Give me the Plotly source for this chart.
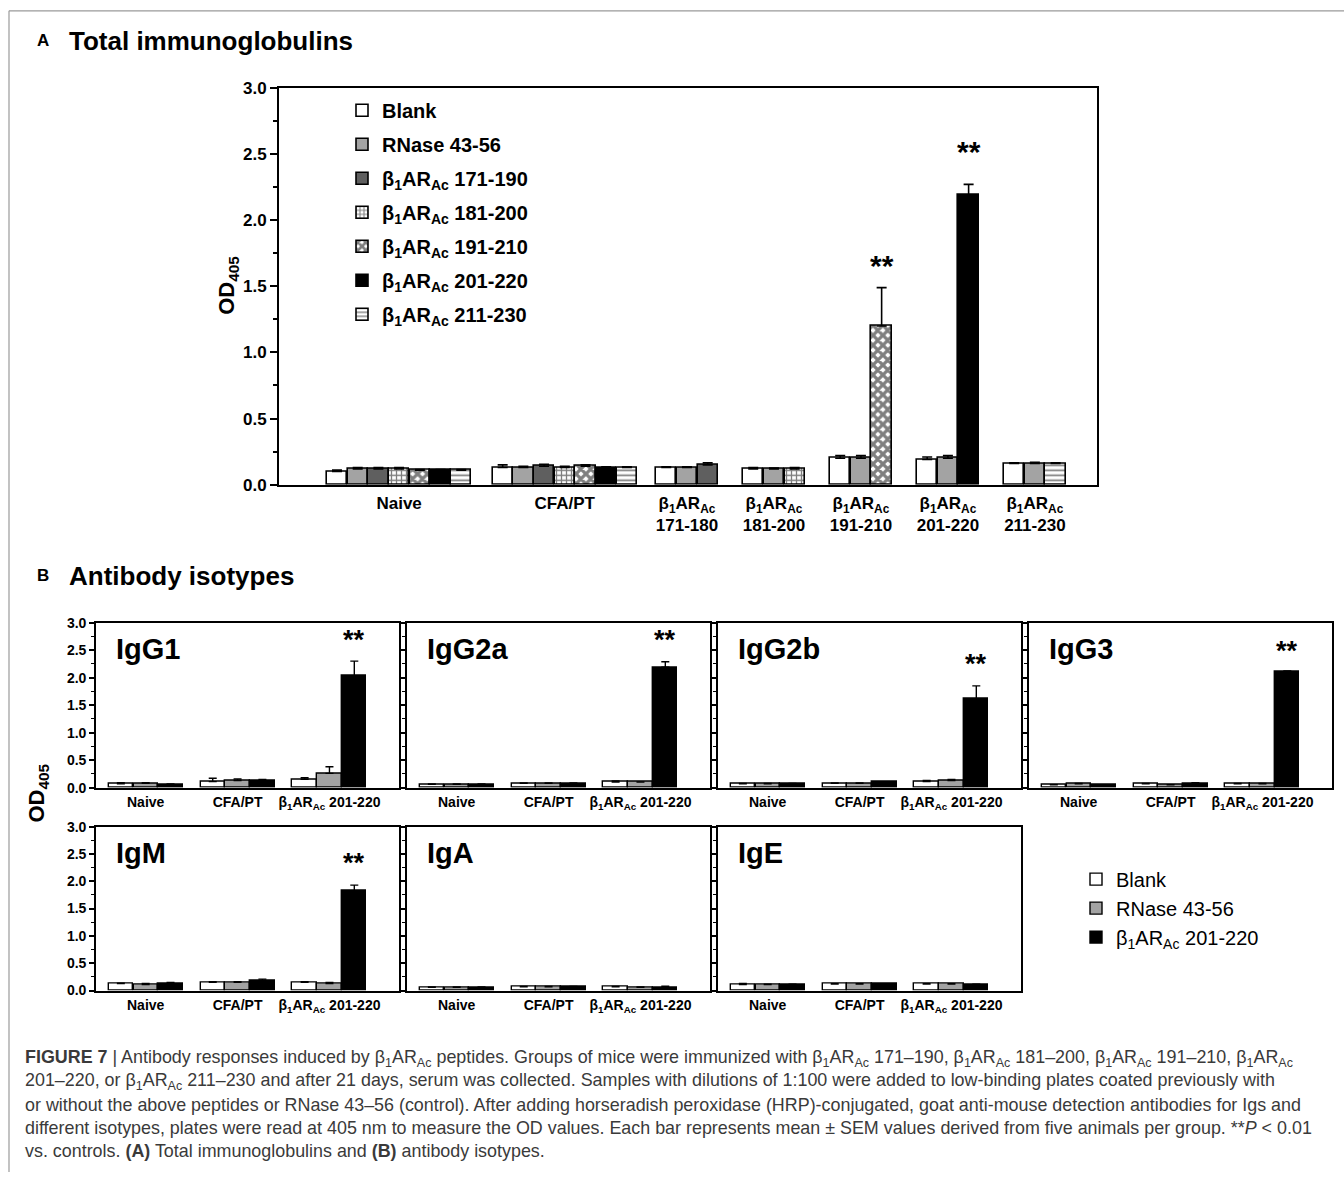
import plotly.graph_objects as go

W, H = 1344, 1182
NARROW = "Liberation Sans Narrow, Arial Narrow, Liberation Sans, Arial, sans-serif"
ARIAL = "Liberation Sans, Arial, Helvetica, sans-serif"
B1 = "β<sub>1</sub>AR<sub>Ac</sub>"

# ---------------- Panel A data ----------------
a_groups = ["Naive", "CFA/PT", B1 + "<br>171-180", B1 + "<br>181-200",
            B1 + "<br>191-210", B1 + "<br>201-220", B1 + "<br>211-230"]
a_series = ["Blank", "RNase 43-56", B1 + " 171-190", B1 + " 181-200",
            B1 + " 191-210", B1 + " 201-220", B1 + " 211-230"]
a_blank = [0.10, 0.13, 0.13, 0.12, 0.20, 0.19, 0.16]
a_blank_sem = [0.01, 0.02, 0.005, 0.01, 0.02, 0.02, 0.005]
a_rnase = [0.12, 0.13, 0.13, 0.12, 0.20, 0.20, 0.16]
a_rnase_sem = [0.01, 0.01, 0.005, 0.005, 0.02, 0.02, 0.01]
a_p171 = [0.12, 0.14, 0.15, None, None, None, None]
a_p171_sem = [0.01, 0.015, 0.015, None, None, None, None]
a_p181 = [0.12, 0.13, None, 0.12, None, None, None]
a_p181_sem = [0.01, 0.01, None, 0.01, None, None, None]
a_p191 = [0.11, 0.14, None, None, 1.20, None, None]
a_p191_sem = [0.005, 0.01, None, None, 0.29, None, None]
a_p201 = [0.11, 0.13, None, None, None, 2.19, None]
a_p201_sem = [0.005, 0.005, None, None, None, 0.08, None]
a_p211 = [0.11, 0.13, None, None, None, None, 0.16]
a_p211_sem = [0.005, 0.005, None, None, None, None, 0.005]
a_star_y = [None, None, None, None, 1.66, 2.52, None]
a_star_series = [None, None, None, None, 4, 5, None]

# ---------------- Panel B data ----------------
b_panels = ["IgG1", "IgG2a", "IgG2b", "IgG3", "IgM", "IgA", "IgE"]
b_groups = ["Naive", "CFA/PT", B1 + " 201-220"]
b_series = ["Blank", "RNase 43-56", B1 + " 201-220"]
b_blank = [[0.07, 0.11, 0.15], [0.06, 0.08, 0.10], [0.07, 0.08, 0.11], [0.05, 0.07, 0.07],
           [0.13, 0.15, 0.15], [0.06, 0.07, 0.07], [0.11, 0.12, 0.12]]
b_blank_sem = [[0.02, 0.06, 0.03], [0.005, 0.005, 0.02], [0.005, 0.005, 0.02], [0.005, 0.005, 0.005],
               [0.005, 0.01, 0.01], [0.005, 0.005, 0.005], [0.02, 0.005, 0.005]]
b_rnase = [[0.08, 0.13, 0.26], [0.06, 0.08, 0.10], [0.07, 0.08, 0.13], [0.07, 0.05, 0.07],
           [0.11, 0.15, 0.13], [0.06, 0.07, 0.06], [0.11, 0.12, 0.12]]
b_rnase_sem = [[0.01, 0.03, 0.12], [0.005, 0.005, 0.005], [0.005, 0.005, 0.02], [0.005, 0.005, 0.005],
               [0.02, 0.01, 0.02], [0.005, 0.005, 0.005], [0.005, 0.005, 0.005]]
b_pep = [[0.06, 0.12, 2.03], [0.06, 0.08, 2.19], [0.07, 0.10, 1.61], [0.05, 0.07, 2.10],
         [0.13, 0.18, 1.82], [0.06, 0.07, 0.06], [0.11, 0.12, 0.11]]
b_pep_sem = [[0.005, 0.03, 0.27], [0.005, 0.005, 0.10], [0.005, 0.005, 0.24], [0.005, 0.02, 0.02],
             [0.02, 0.03, 0.11], [0.005, 0.005, 0.02], [0.005, 0.005, 0.005]]
b_star_y = [2.68, 2.68, 2.25, 2.48, 2.34, None, None]

y_ticks = [0.0, 0.5, 1.0, 1.5, 2.0, 2.5, 3.0]

caption_lines = [
    "<b>FIGURE 7</b> | Antibody responses induced by " + B1 + " peptides. Groups of mice were immunized with "
    + B1 + " 171–190, " + B1 + " 181–200, " + B1 + " 191–210, " + B1,
    "201–220, or " + B1 + " 211–230 and after 21 days, serum was collected. Samples with dilutions of 1:100 were added to low-binding plates coated previously with",
    "or without the above peptides or RNase 43–56 (control). After adding horseradish peroxidase (HRP)-conjugated, goat anti-mouse detection antibodies for Igs and",
    "different isotypes, plates were read at 405 nm to measure the OD values. Each bar represents mean ± SEM values derived from five animals per group. **<i>P</i> &lt; 0.01",
    "vs. controls. <b>(A)</b> Total immunoglobulins and <b>(B)</b> antibody isotypes.",
]

# ---------------- helpers / styles ----------------
def px_x(p):
    return p / W

def px_y(p):
    # target picture row -> paper fraction (compensates the page framing seen in the snapshot)
    return 1 - ((p - 8.16) / 0.9842) / H

a_styles = [
    dict(color="white"),
    dict(color="#a3a3a3"),
    dict(color="#5f5f5f"),
    dict(color="white", pattern=dict(shape="+", fgcolor="black", bgcolor="white", size=5, solidity=0.45)),
    dict(color="white", pattern=dict(shape="x", fgcolor="black", bgcolor="white", size=7, solidity=0.72)),
    dict(color="black"),
    dict(color="white", pattern=dict(shape="-", fgcolor="black", bgcolor="white", size=5, solidity=0.35)),
]
b_colors = ["white", "#a3a3a3", "black"]

fig = go.Figure()

# ---------------- Panel A traces ----------------
a_centers = [5.8, 13.8, 19.7, 23.9, 28.1, 32.3, 36.5]
a_vals = [a_blank, a_rnase, a_p171, a_p181, a_p191, a_p201, a_p211]
a_sems = [a_blank_sem, a_rnase_sem, a_p171_sem, a_p181_sem, a_p191_sem, a_p201_sem, a_p211_sem]
bw = 1.0

slots = {}
for g in range(len(a_groups)):
    present = [s for s in range(len(a_series)) if a_vals[s][g] is not None]
    n = len(present)
    for k, s in enumerate(present):
        slots[(s, g)] = a_centers[g] + (k - (n - 1) / 2) * bw

for s in range(len(a_series)):
    xs, ys, es = [], [], []
    for g in range(len(a_groups)):
        if a_vals[s][g] is not None:
            xs.append(slots[(s, g)])
            ys.append(a_vals[s][g])
            es.append(a_sems[s][g])
    fig.add_trace(go.Bar(
        x=xs, y=ys, width=bw * 0.98, name="<b>" + a_series[s] + "</b>", legend="legend",
        legendgroup="a%d" % s,
        marker=dict(line=dict(color="black", width=1.6), **a_styles[s]),
        error_y=dict(type="data", symmetric=False, array=es, arrayminus=[0] * len(es),
                     color="black", thickness=1.6, width=5),
        xaxis="x", yaxis="y",
    ))

annotations = []
for g in range(len(a_groups)):
    if a_star_y[g] is not None:
        annotations.append(dict(x=slots[(a_star_series[g], g)], y=a_star_y[g], xref="x", yref="y",
                                text="<b>**</b>", showarrow=False,
                                font=dict(family=ARIAL, size=30, color="black")))

# ---------------- Panel B traces ----------------
b_centers = [2.0, 5.7, 9.4]
b_vals = [b_blank, b_rnase, b_pep]
b_sems = [b_blank_sem, b_rnase_sem, b_pep_sem]
for p in range(len(b_panels)):
    ax = str(p + 2)
    for s in range(3):
        xs = [b_centers[g] + (s - 1) * bw for g in range(3)]
        fig.add_trace(go.Bar(
            x=xs, y=b_vals[s][p], width=bw * 0.98, name=b_series[s],
            legend="legend2", showlegend=(p == 0),
            marker=dict(color=b_colors[s], line=dict(color="black", width=1.4)),
            error_y=dict(type="data", symmetric=False, array=b_sems[s][p], arrayminus=[0, 0, 0],
                         color="black", thickness=1.4, width=4),
            xaxis="x" + ax, yaxis="y" + ax,
        ))
    if b_star_y[p] is not None:
        annotations.append(dict(x=b_centers[2] + bw, y=b_star_y[p], xref="x" + ax, yref="y" + ax,
                                text="<b>**</b>", showarrow=False,
                                font=dict(family=ARIAL, size=27, color="black")))
    annotations.append(dict(x=0.06, y=0.84, xref="x" + ax + " domain", yref="y" + ax + " domain",
                            text="<b>" + b_panels[p] + "</b>", showarrow=False, xanchor="left",
                            yanchor="middle", font=dict(family=NARROW, size=29, color="black")))

# ---------------- layout: axes ----------------
layout = dict(
    width=W, height=H, autosize=False,
    margin=dict(l=0, r=0, t=0, b=0),
    paper_bgcolor="white", plot_bgcolor="white",
    barmode="overlay", bargap=0,
    showlegend=True,
)

layout["xaxis"] = dict(
    domain=[px_x(279), px_x(1097)], range=[0, 39.5], anchor="y",
    tickmode="array", tickvals=a_centers, ticktext=["<b>" + t + "</b>" for t in a_groups],
    ticks="", showline=True, linecolor="black", linewidth=2, mirror=True,
    showgrid=False, zeroline=False, ticklabelstandoff=2,
    tickfont=dict(family=ARIAL, size=17, color="black"),
)
layout["yaxis"] = dict(
    domain=[px_y(484), px_y(87)], range=[0, 3], anchor="x",
    tickmode="array", tickvals=y_ticks, ticktext=["<b>%.1f</b>" % v for v in y_ticks],
    ticks="outside", ticklen=7, tickwidth=2, tickcolor="black",
    minor=dict(ticks="outside", ticklen=4, tickwidth=1.5, tickcolor="black", dtick=0.25, showgrid=False),
    showline=True, linecolor="black", linewidth=2, mirror=True,
    showgrid=False, zeroline=False,
    tickfont=dict(family=NARROW, size=17, color="black"),
)

col_x = [(96, 399), (407, 710), (718, 1021), (1029, 1332)]
row_y = [(787, 622), (990, 826)]
for p in range(len(b_panels)):
    ax = str(p + 2)
    r, c = divmod(p, 4)
    layout["xaxis" + ax] = dict(
        domain=[px_x(col_x[c][0]), px_x(col_x[c][1])], range=[0, 12.2], anchor="y" + ax,
        tickmode="array", tickvals=b_centers, ticktext=["<b>" + t + "</b>" for t in b_groups],
        ticks="", showline=True, linecolor="black", linewidth=1.6, mirror=True,
        showgrid=False, zeroline=False, ticklabelstandoff=1,
        tickfont=dict(family=NARROW, size=14, color="black"),
    )
    layout["yaxis" + ax] = dict(
        domain=[px_y(row_y[r][0]), px_y(row_y[r][1])], range=[0, 3], anchor="x" + ax,
        tickmode="array", tickvals=y_ticks, ticktext=["<b>%.1f</b>" % v for v in y_ticks],
        showticklabels=(c == 0),
        ticks="outside", ticklen=5, tickwidth=1.5, tickcolor="black",
        minor=dict(ticks="outside", ticklen=3, tickwidth=1, tickcolor="black", dtick=0.25, showgrid=False),
        showline=True, linecolor="black", linewidth=1.6, mirror=True,
        showgrid=False, zeroline=False,
        tickfont=dict(family=NARROW, size=14, color="black"),
    )

layout["legend"] = dict(
    x=px_x(342), y=px_y(90), xanchor="left", yanchor="top",
    bgcolor="rgba(0,0,0,0)", traceorder="grouped", tracegroupgap=5,
    font=dict(family=NARROW, size=20, color="black"),
    itemwidth=30,
)
layout["legend2"] = dict(
    x=px_x(1076), y=px_y(859), xanchor="left", yanchor="top",
    bgcolor="rgba(0,0,0,0)", traceorder="normal", tracegroupgap=0,
    font=dict(family=NARROW, size=20, color="black"),
    itemwidth=30,
)

# ---------------- text annotations ----------------
annotations += [
    dict(x=px_x(35), y=px_y(40), xref="paper", yref="paper", text="<b>A</b>", showarrow=False,
         xanchor="left", yanchor="middle", font=dict(family=ARIAL, size=17, color="black")),
    dict(x=px_x(67), y=px_y(40), xref="paper", yref="paper", text="<b>Total immunoglobulins</b>",
         showarrow=False, xanchor="left", yanchor="middle", font=dict(family=ARIAL, size=26, color="black")),
    dict(x=px_x(35), y=px_y(575), xref="paper", yref="paper", text="<b>B</b>", showarrow=False,
         xanchor="left", yanchor="middle", font=dict(family=ARIAL, size=17, color="black")),
    dict(x=px_x(67), y=px_y(575), xref="paper", yref="paper", text="<b>Antibody isotypes</b>",
         showarrow=False, xanchor="left", yanchor="middle", font=dict(family=ARIAL, size=26, color="black")),
    dict(x=px_x(228), y=px_y(285), xref="paper", yref="paper", text="<b>OD<sub>405</sub></b>",
         showarrow=False, textangle=-90, xanchor="center", yanchor="middle",
         font=dict(family=ARIAL, size=22, color="black")),
    dict(x=px_x(38), y=px_y(793), xref="paper", yref="paper", text="<b>OD<sub>405</sub></b>",
         showarrow=False, textangle=-90, xanchor="center", yanchor="middle",
         font=dict(family=ARIAL, size=22, color="black")),
]
cap_y = [1058, 1081, 1104, 1127, 1150]
for line, yy in zip(caption_lines, cap_y):
    annotations.append(dict(x=px_x(23), y=px_y(yy), xref="paper", yref="paper", text=line,
                            showarrow=False, xanchor="left", yanchor="middle", align="left",
                            font=dict(family=ARIAL, size=17.9, color="#3a3a3a")))

layout["annotations"] = annotations
layout["shapes"] = [
    dict(type="line", xref="paper", yref="paper", x0=px_x(9), x1=1.0, y0=px_y(10), y1=px_y(10),
         line=dict(color="#9a9a9a", width=1.2)),
    dict(type="line", xref="paper", yref="paper", x0=px_x(9), x1=px_x(9), y0=px_y(10), y1=0.0,
         line=dict(color="#9a9a9a", width=1.2)),
]

fig.update_layout(**layout)
fig.write_html(
    "out.html",
    config={"displayModeBar": False},
    post_script=(
        "document.documentElement.style.margin='0';"
        "document.documentElement.style.overflow='hidden';"
        "document.body.style.margin='0';document.body.style.padding='0';"
        "document.body.style.overflow='hidden';"
        "var gd=document.getElementsByClassName('plotly-graph-div')[0];"
        "gd.style.position='absolute';gd.style.left='0px';gd.style.top='0px';"
    ),
)
